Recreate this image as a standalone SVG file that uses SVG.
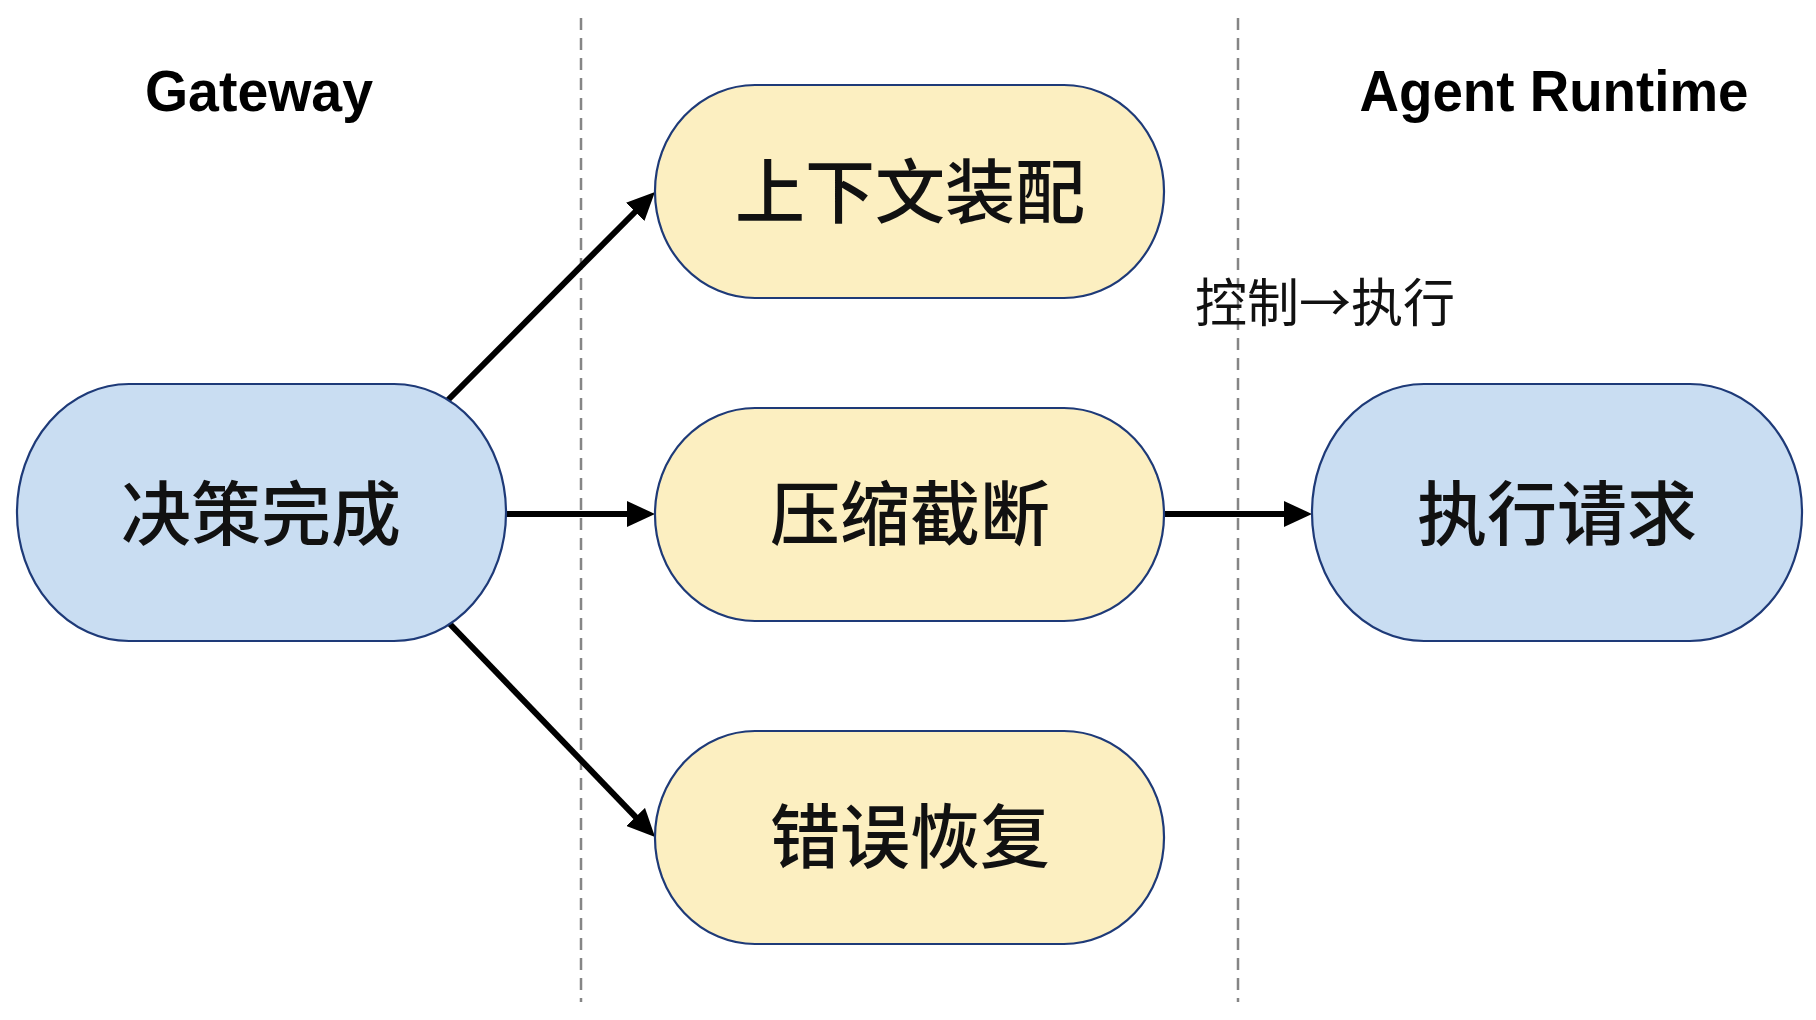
<svg xmlns="http://www.w3.org/2000/svg" width="1816" height="1020" viewBox="0 0 1816 1020">
<style>
.blue{fill:#c9ddf2;stroke:#1e3a78;stroke-width:2.2}
.yellow{fill:#fcefc1;stroke:#1e3a78;stroke-width:2.2}
.lbl{font-family:"Noto Sans CJK SC","Noto Sans",sans-serif;font-size:70px;font-weight:500;fill:#111;text-anchor:middle}
.hdr{font-family:"Liberation Sans",Arial,sans-serif;font-weight:bold;font-size:57px;fill:#000;text-anchor:middle}
.edge{stroke:#000;stroke-width:6;fill:none;marker-end:url(#ah)}
.div{stroke:#858585;stroke-width:2.5;stroke-dasharray:12 8}
</style>
<defs>
<marker id="ah" markerUnits="userSpaceOnUse" markerWidth="28" markerHeight="26" refX="4" refY="13" orient="auto">
<path d="M0,0 L28,13 L0,26 z" fill="#000"/>
</marker>
</defs>
<rect width="1816" height="1020" fill="#fff"/>
<g id="dividers">
<line class="div" x1="581" y1="18" x2="581" y2="1002"/>
<line class="div" x1="1238" y1="18" x2="1238" y2="1002"/>
</g>
<g id="headers">
<text class="hdr" x="259" y="111" textLength="228" lengthAdjust="spacingAndGlyphs">Gateway</text>
<text class="hdr" x="1554" y="111" textLength="389" lengthAdjust="spacingAndGlyphs">Agent Runtime</text>
</g>
<g id="connectors">
<line class="edge" x1="447" y1="401" x2="638" y2="209"/>
<line class="edge" x1="506" y1="514" x2="631" y2="514"/>
<line class="edge" x1="448" y1="622" x2="638.4" y2="819.8"/>
<line class="edge" x1="1164" y1="514" x2="1288" y2="514"/>
<text x="1195" y="322" font-family="Noto Sans CJK SC, Noto Sans, sans-serif" font-size="52" fill="#111">控制→执行</text>
</g>
<g id="node-decision">
<rect class="blue" x="17" y="384" width="489" height="257" rx="112" ry="128"/>
<text class="lbl" x="261" y="540">决策完成</text>
</g>
<g id="node-context">
<rect class="yellow" x="655" y="85" width="509" height="213" rx="100" ry="106"/>
<text class="lbl" x="910" y="218">上下文装配</text>
</g>
<g id="node-compress">
<rect class="yellow" x="655" y="408" width="509" height="213" rx="100" ry="106"/>
<text class="lbl" x="910" y="540">压缩截断</text>
</g>
<g id="node-recovery">
<rect class="yellow" x="655" y="731" width="509" height="213" rx="100" ry="106"/>
<text class="lbl" x="910" y="863">错误恢复</text>
</g>
<g id="node-exec">
<rect class="blue" x="1312" y="384" width="490" height="257" rx="112" ry="128"/>
<text class="lbl" x="1557" y="540">执行请求</text>
</g>
</svg>
